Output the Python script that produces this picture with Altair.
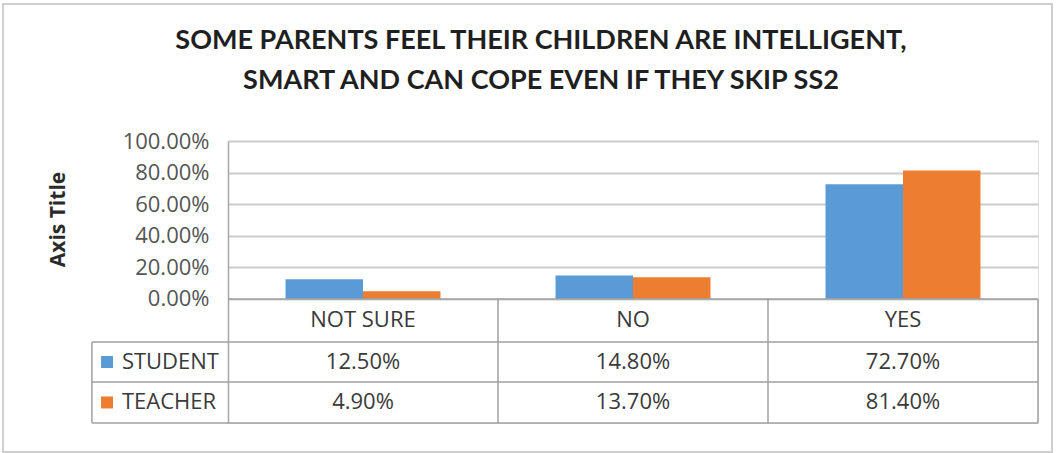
import altair as alt
import pandas as pd

categories = ["NOT SURE", "NO", "YES"]
series = ["STUDENT", "TEACHER"]
student = [0.125, 0.148, 0.727]
teacher = [0.049, 0.137, 0.814]
colors = ["#5B9BD5", "#ED7D31"]
y_ticks = [0.0, 0.2, 0.4, 0.6, 0.8, 1.0]

# layout (in scale units): bar offsets within a category, table rows
BAR_W = 0.287
Y_MIN = -0.785
ROW_LINES = [0.0, -0.272, -0.525, -0.785]
ROW_CENTERS = {"HEADER": -0.136, "STUDENT": -0.399, "TEACHER": -0.655}
LEG_LEFT = -0.504
MARK_X = -0.448
LABEL_X = -0.393

values = {"STUDENT": student, "TEACHER": teacher}
rows = []
for s_i, s in enumerate(series):
    for i, c in enumerate(categories):
        v = values[s][i]
        x0 = i + 0.5 - BAR_W + s_i * BAR_W
        rows.append({"series": s, "category": c, "value": v,
                     "x0": x0, "x1": x0 + BAR_W, "xc": i + 0.5,
                     "row": ROW_CENTERS[s], "label": f"{v*100:.2f}%"})
bars_df = pd.DataFrame(rows)

header_df = pd.DataFrame({"category": categories,
                          "xc": [i + 0.5 for i in range(len(categories))],
                          "row": [ROW_CENTERS["HEADER"]] * len(categories)})
legend_df = pd.DataFrame({"series": series,
                          "mx": [MARK_X] * 2, "lx": [LABEL_X] * 2,
                          "row": [ROW_CENTERS[s] for s in series]})

n = len(categories)
hl = pd.DataFrame({"x": [0, LEG_LEFT, LEG_LEFT, LEG_LEFT],
                   "x2": [n] * 4, "y": ROW_LINES})
vl = pd.DataFrame({"x": [1, 2, n, LEG_LEFT],
                   "y": [0, 0, 0, ROW_LINES[1]],
                   "y2": [Y_MIN] * 4})

xs = alt.Scale(domain=[0, n], nice=False, zero=False)
ys = alt.Scale(domain=[Y_MIN, 1.0], nice=False, zero=False)
cs = alt.Scale(domain=series, range=colors)

FONT = "Open Sans"
TXT = "#3a3a3a"
FS = 22

base_axis = alt.Axis(values=y_ticks, format=".2%", grid=True, gridColor="#cccccc",
                     gridWidth=2, ticks=False, labelPadding=19, labelFont=FONT,
                     labelFontSize=FS, labelColor="#555555", domainColor="#a6a6a6",
                     domainWidth=1.5, title="Axis Title", titleFont=FONT,
                     titleFontSize=21, titleFontWeight="bold", titleColor="#2a2a2a",
                     titleAngle=270, titleX=-170, titleY=78, titleAlign="center",
                     titleBaseline="middle")

bars = alt.Chart(bars_df).mark_bar().encode(
    x=alt.X("x0:Q", scale=xs, axis=None),
    x2="x1:Q",
    y=alt.Y("value:Q", scale=ys, axis=base_axis),
    y2=alt.datum(0),
    color=alt.Color("series:N", scale=cs, legend=None),
)

hrules = alt.Chart(hl).mark_rule(color="#a0a0a0", strokeWidth=1.5).encode(
    x=alt.X("x:Q", scale=xs), x2="x2:Q", y=alt.Y("y:Q", scale=ys))
vrules = alt.Chart(vl).mark_rule(color="#a0a0a0", strokeWidth=1.5).encode(
    x=alt.X("x:Q", scale=xs), y=alt.Y("y:Q", scale=ys), y2="y2:Q")

cell_text = alt.Chart(bars_df).mark_text(font=FONT, fontSize=FS, color=TXT,
                                         baseline="middle").encode(
    x=alt.X("xc:Q", scale=xs), y=alt.Y("row:Q", scale=ys), text="label:N")
head_text = alt.Chart(header_df).mark_text(font=FONT, fontSize=FS, color=TXT,
                                           baseline="middle").encode(
    x=alt.X("xc:Q", scale=xs), y=alt.Y("row:Q", scale=ys), text="category:N")
leg_marks = alt.Chart(legend_df).mark_square(size=144, opacity=1).encode(
    x=alt.X("mx:Q", scale=xs), y=alt.Y("row:Q", scale=ys),
    color=alt.Color("series:N", scale=cs, legend=None))
leg_text = alt.Chart(legend_df).mark_text(font=FONT, fontSize=FS, color=TXT,
                                          align="left", baseline="middle").encode(
    x=alt.X("lx:Q", scale=xs), y=alt.Y("row:Q", scale=ys), text="series:N")

border = alt.Chart(pd.DataFrame({"k": [0]})).mark_rect(
    fill=None, stroke="#cfcfcf", strokeWidth=2).encode(
    x=alt.value(-225), x2=alt.value(824), y=alt.value(-137), y2=alt.value(311))

chart = alt.layer(border, bars, hrules, vrules, cell_text, head_text, leg_marks,
                  leg_text).properties(
    width=810, height=282,
    title=alt.TitleParams(
        text=["SOME PARENTS FEEL THEIR CHILDREN ARE INTELLIGENT,",
              "SMART AND CAN COPE EVEN IF THEY SKIP SS2"],
        font="Lato", fontSize=27, fontWeight="bold",
        color="#1f1f1f", anchor="middle", dx=-92, offset=-119, lineHeight=40,
        baseline="bottom"),
    autosize=alt.AutoSizeParams(type="none"),
    padding={"left": 228, "top": 141, "right": 19, "bottom": 30},
).configure_view(stroke=None).configure(background="white")

chart.save("out.html", embed_options={"renderer": "svg", "actions": False})
